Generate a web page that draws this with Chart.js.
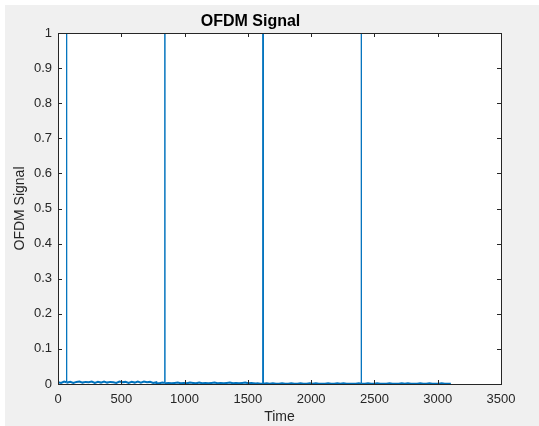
<!DOCTYPE html>
<html>
<head>
<meta charset="utf-8">
<script src="https://cdn.jsdelivr.net/npm/chart.js@4"></script>
<style>
    body { margin: 0; background: #ffffff; }
    canvas { display: block; }
</style>
</head>
<body>
<canvas id="ofdmChart" width="539" height="426"></canvas>
<script>
// OFDM frame: 4 blocks of 776 samples, one pilot spike near the start of each block
const blockStarts = [0, 776, 1552, 2328];
const blockLength = 776;
const spikeTimes = [68, 844, 1620, 2396];
const spikeValue = 1;

// small residual samples (one list per block)
const block1Values = [0.005, 0.003, 0.007, 0.004, 0.006, 0.003, 0.006, 0.007, 0.004, 0.006, 0.005, 0.007, 0.003, 0.006, 0.004, 0.007, 0.004, 0.006, 0.005, 0.003, 0.007, 0.005, 0.006, 0.003, 0.006, 0.004, 0.007, 0.004, 0.007, 0.005, 0.006, 0.003, 0.005];
const block2Values = [0.003, 0.002, 0.004, 0.002, 0.003, 0.002, 0.003, 0.004, 0.002, 0.003, 0.002, 0.004, 0.003, 0.002, 0.004, 0.002, 0.003, 0.002, 0.003, 0.004, 0.002, 0.003, 0.002, 0.003, 0.004, 0.002, 0.003, 0.002, 0.003, 0.004, 0.002, 0.003, 0.002];
const block3Values = [0.001, 0.002, 0.001, 0.001, 0.002, 0.001, 0.002, 0.001, 0.001, 0.002, 0.001, 0.001, 0.002, 0.001, 0.001, 0.002, 0.001, 0.001, 0.002, 0.001, 0.002, 0.001, 0.001, 0.001, 0.002, 0.001, 0.001, 0.002, 0.001, 0.002, 0.001, 0.001, 0.001];
const block4Values = [0.001, 0.001, 0.002, 0.001, 0.001, 0.002, 0.001, 0.001, 0.002, 0.001, 0.001, 0.001, 0.002, 0.001, 0.001, 0.001, 0.002, 0.001, 0.002, 0.001, 0.001, 0.001, 0.002, 0.001, 0.001, 0.002, 0.001, 0.001, 0.001, 0.002, 0.001, 0.001, 0.001];
const spikeNeighbours = [0.005, 0.003, 0.001, 0.001];

const xTickValues = [0, 500, 1000, 1500, 2000, 2500, 3000, 3500];
const yTickValues = [0, 0.1, 0.2, 0.3, 0.4, 0.5, 0.6, 0.7, 0.8, 0.9, 1];

// build the (time, value) pairs the line dataset needs
function buildPoints() {
    const blocks = [block1Values, block2Values, block3Values, block4Values];
    const pts = [];
    blocks.forEach((vals, b) => {
        const step = blockLength / (vals.length - 1);
        vals.forEach((v, i) => pts.push({ x: blockStarts[b] + i * step, y: v }));
        const t = spikeTimes[b];
        pts.push({ x: t - 1, y: spikeNeighbours[b] });
        pts.push({ x: t, y: spikeValue });
        pts.push({ x: t + 1, y: spikeNeighbours[b] });
    });
    return pts.sort((a, b) => a.x - b.x);
}

const axisColor = "#262626";
const lineColor = "#0072BD";
const fontFamily = "Liberation Sans, Arial, sans-serif";

// MATLAB style frame: grey figure, white axes, full box and inward ticks
const matlabFrame = {
    id: "matlabFrame",
    beforeDraw(chart) {
        const { ctx, chartArea: a } = chart;
        ctx.save();
        ctx.fillStyle = "#f0f0f0";
        ctx.fillRect(5, 5, chart.width - 5, chart.height - 5);
        ctx.fillStyle = "#ffffff";
        ctx.fillRect(a.left, a.top, a.right - a.left, a.bottom - a.top);
        ctx.restore();
    },
    afterDatasetsDraw(chart) {
        const { ctx, chartArea: a, scales } = chart;
        const len = 4;
        ctx.save();
        ctx.strokeStyle = axisColor;
        ctx.lineWidth = 1;
        ctx.beginPath();
        xTickValues.forEach(v => {
            const px = Math.round(scales.x.getPixelForValue(v)) + 0.5;
            ctx.moveTo(px, a.bottom);
            ctx.lineTo(px, a.bottom - len);
            ctx.moveTo(px, a.top);
            ctx.lineTo(px, a.top + len);
        });
        yTickValues.forEach(v => {
            const py = Math.round(scales.y.getPixelForValue(v)) + 0.5;
            ctx.moveTo(a.left, py);
            ctx.lineTo(a.left + len, py);
            ctx.moveTo(a.right, py);
            ctx.lineTo(a.right - len, py);
        });
        ctx.stroke();
        ctx.strokeRect(Math.round(a.left) + 0.5, Math.round(a.top) + 0.5,
            Math.round(a.right - a.left), Math.round(a.bottom - a.top));
        ctx.restore();
    }
};

new Chart(document.getElementById("ofdmChart"), {
    type: "scatter",
    data: {
        datasets: [{
            data: buildPoints(),
            showLine: true,
            borderColor: lineColor,
            backgroundColor: lineColor,
            borderWidth: 1,
            pointRadius: 0,
            tension: 0,
            segment: {
                // the dense low-level samples read as a thicker band
                borderWidth: c => (c.p0.parsed.y < 0.05 && c.p1.parsed.y < 0.05) ? 2 : 1,
                borderColor: () => lineColor
            }
        }]
    },
    options: {
        responsive: false,
        animation: false,
        layout: { padding: { left: 0, right: 38, top: 0, bottom: 0 } },
        scales: {
            x: {
                type: "linear",
                min: 0,
                max: 3500,
                afterFit: s => { s.height = 42; },
                afterBuildTicks: s => { s.ticks = xTickValues.map(v => ({ value: v })); },
                grid: { display: false, drawTicks: false },
                border: { display: false },
                ticks: {
                    padding: 8,
                    color: axisColor,
                    font: { family: fontFamily, size: 13 },
                    maxRotation: 0,
                    callback: v => String(v)
                },
                title: {
                    display: true,
                    text: "Time",
                    color: axisColor,
                    padding: { top: 0, bottom: 0 },
                    font: { family: fontFamily, size: 14 }
                }
            },
            y: {
                min: 0,
                max: 1,
                afterFit: s => { s.width = 58; },
                afterBuildTicks: s => { s.ticks = yTickValues.map(v => ({ value: v })); },
                grid: { display: false, drawTicks: false },
                border: { display: false },
                ticks: {
                    padding: 6,
                    color: axisColor,
                    font: { family: fontFamily, size: 13 },
                    callback: v => String(v)
                },
                title: {
                    display: true,
                    text: "OFDM Signal",
                    color: axisColor,
                    padding: { top: 12, bottom: 0 },
                    font: { family: fontFamily, size: 14 }
                }
            }
        },
        plugins: {
            legend: { display: false },
            tooltip: { enabled: false },
            title: {
                display: true,
                text: "OFDM Signal",
                color: "#000000",
                padding: { top: 12, bottom: 1.8 },
                font: { family: fontFamily, size: 16, weight: "bold" }
            }
        }
    },
    plugins: [matlabFrame]
});
</script>
</body>
</html>
